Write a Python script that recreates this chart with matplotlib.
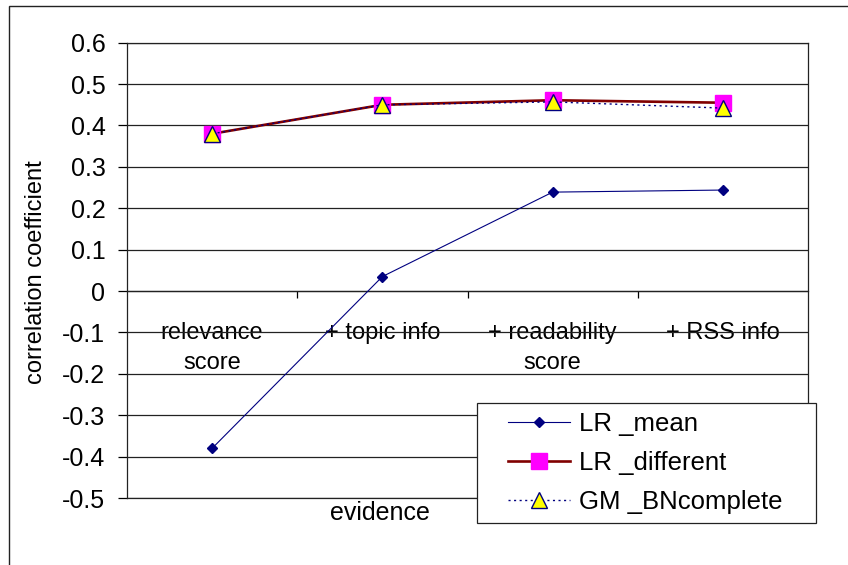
from matplotlib import pyplot as plt
from matplotlib.patches import Rectangle

# Veriler
categories = ["relevance\nscore", "+ topic info", "+ readability\nscore", "+ RSS info"]
lr_mean = [-0.38, 0.035, 0.239, 0.244]
lr_different = [0.38, 0.45, 0.461, 0.455]
gm_bncomplete = [0.38, 0.45, 0.457, 0.442]
y_ticks = [0.6, 0.5, 0.4, 0.3, 0.2, 0.1, 0.0, -0.1, -0.2, -0.3, -0.4, -0.5]
y_tick_labels = ["0.6", "0.5", "0.4", "0.3", "0.2", "0.1", "0", "-0.1", "-0.2", "-0.3", "-0.4", "-0.5"]

plt.rcParams['font.family'] = ['Liberation Sans', 'DejaVu Sans']

W, H = 848, 565
fig = plt.figure(figsize=(W / 100, H / 100), dpi=100)

# plot alani (piksel -> figure koordinati)
left, right, top, bottom = 127, 808, 42.7, 498
ax = fig.add_axes([left / W, 1 - bottom / H, (right - left) / W, (bottom - top) / H])

x = list(range(len(categories)))

# Cizgiler
ax.plot(x, lr_mean, color='#000080', linewidth=0.8, marker='D', markersize=5.5,
        markerfacecolor='#000080', markeredgecolor='#000080', label='LR _mean', zorder=3)
ax.plot(x, lr_different, color='#800000', linewidth=1.9, marker='s', markersize=12,
        markerfacecolor='#ff00ff', markeredgecolor='#ff00ff', label='LR _different', zorder=3)
ax.plot(x, gm_bncomplete, color='#000080', linewidth=1.0, linestyle=(0, (1.5, 2.5)), marker='^',
        markersize=12, markerfacecolor='#ffff00', markeredgecolor='#000080', markeredgewidth=1.0,
        label='GM _BNcomplete', zorder=4)

# Eksenler
ax.set_xlim(-0.5, len(categories) - 0.5)
ax.set_ylim(-0.5, 0.6)
ax.set_yticks(y_ticks)
ax.set_yticklabels(y_tick_labels, fontsize=18)
ax.tick_params(axis='y', direction='out', length=6.5, width=0.9, pad=9)
ax.yaxis.grid(True, color='#222222', linewidth=0.9)
ax.set_axisbelow(True)
# alt cizgi (-0.5) kirpilmasin
ax.axhline(-0.5, color='#222222', linewidth=0.9, clip_on=False, zorder=1)

ax.spines['bottom'].set_position(('data', 0))
for sp in ax.spines.values():
    sp.set_color('#222222')
    sp.set_linewidth(0.9)

ax.set_xticks([i + 0.5 for i in x[:-1]])
ax.set_xticklabels([])
ax.tick_params(axis='x', which='major', direction='out', length=5, width=0.9)
ax.set_xticks(x, minor=True)
ax.set_xticklabels(categories, minor=True, fontsize=17, linespacing=1.5)
ax.tick_params(axis='x', which='minor', length=0, pad=22)

# Eksen basliklari
fig.text(36 / W, 1 - 272 / H, "correlation coefficient", rotation=90, fontsize=17,
         ha='center', va='center')
fig.text(380 / W, 1 - 513 / H, "evidence", fontsize=18, ha='center', va='center')

# Lejant: cerceve elle ciziliyor, icerik ayrica yerlestiriliyor
leg = fig.legend(loc='upper left', bbox_to_anchor=(508 / W, 1 - 412 / H),
                 fontsize=18.5, frameon=False, borderaxespad=0, borderpad=0,
                 handlelength=2.4, handletextpad=0.35, labelspacing=0.58)
fig.add_artist(Rectangle((476.7 / W, 1 - 523 / H), (816 - 476.7) / W, 120 / H,
                         transform=fig.transFigure, facecolor='white', edgecolor='#222222',
                         linewidth=0.9, zorder=4))
leg.set_zorder(5)

# Dis cerceve
fig.add_artist(Rectangle((9 / W, -0.05), 1.0, 1 - 6 / H + 0.05, transform=fig.transFigure,
                         fill=False, edgecolor='#222222', linewidth=1.0))

fig.savefig("out.png", dpi=100)
plt.close(fig)
